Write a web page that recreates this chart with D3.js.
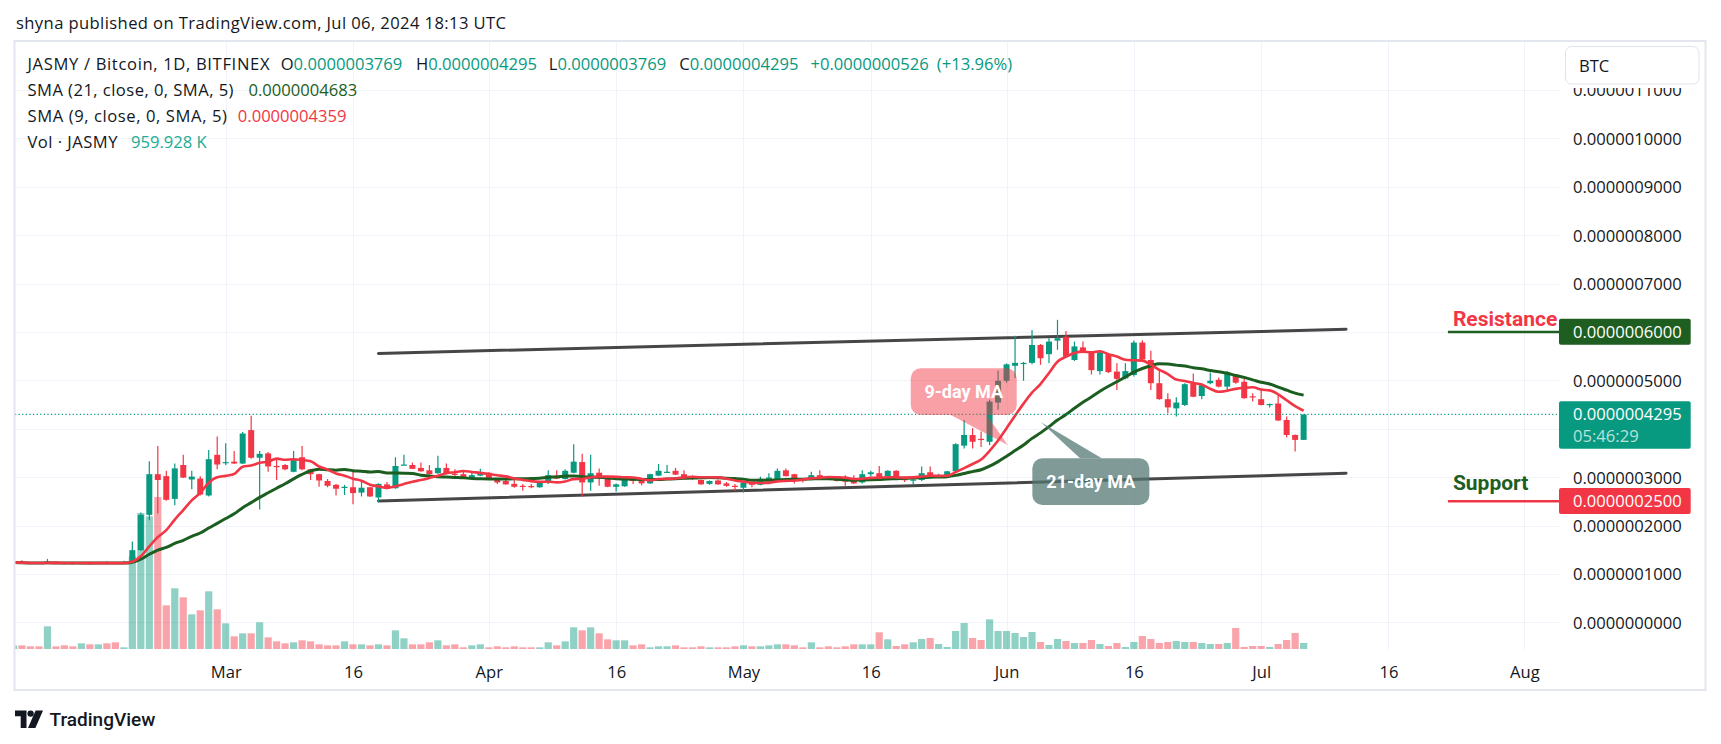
<!DOCTYPE html>
<html><head><meta charset="utf-8">
<script src="https://cdn.jsdelivr.net/npm/d3@7"></script>
<style>
html,body{margin:0;padding:0;background:#fff;}
svg{display:block;font-family:"Open Sans",Roboto,"Liberation Sans",sans-serif;}
</style></head><body>
<svg id="c" width="1721" height="744"></svg>
<script>
// ---------- DATA (prices in units of 1e-7 BTC, volume in thousands) ----------
const PRICE_UNIT = 1e-7;
const dates = [
"2024-02-05","2024-02-06","2024-02-07","2024-02-08","2024-02-09","2024-02-10","2024-02-11","2024-02-12","2024-02-13","2024-02-14","2024-02-15","2024-02-16","2024-02-17","2024-02-18","2024-02-19","2024-02-20","2024-02-21","2024-02-22","2024-02-23","2024-02-24","2024-02-25","2024-02-26","2024-02-27","2024-02-28","2024-02-29",
"2024-03-01","2024-03-02","2024-03-03","2024-03-04","2024-03-05","2024-03-06","2024-03-07","2024-03-08","2024-03-09","2024-03-10","2024-03-11","2024-03-12","2024-03-13","2024-03-14","2024-03-15","2024-03-16","2024-03-17","2024-03-18","2024-03-19","2024-03-20","2024-03-21","2024-03-22","2024-03-23","2024-03-24","2024-03-25","2024-03-26","2024-03-27","2024-03-28","2024-03-29","2024-03-30","2024-03-31",
"2024-04-01","2024-04-02","2024-04-03","2024-04-04","2024-04-05","2024-04-06","2024-04-07","2024-04-08","2024-04-09","2024-04-10","2024-04-11","2024-04-12","2024-04-13","2024-04-14","2024-04-15","2024-04-16","2024-04-17","2024-04-18","2024-04-19","2024-04-20","2024-04-21","2024-04-22","2024-04-23","2024-04-24","2024-04-25","2024-04-26","2024-04-27","2024-04-28","2024-04-29","2024-04-30",
"2024-05-01","2024-05-02","2024-05-03","2024-05-04","2024-05-05","2024-05-06","2024-05-07","2024-05-08","2024-05-09","2024-05-10","2024-05-11","2024-05-12","2024-05-13","2024-05-14","2024-05-15","2024-05-16","2024-05-17","2024-05-18","2024-05-19","2024-05-20","2024-05-21","2024-05-22","2024-05-23","2024-05-24","2024-05-25","2024-05-26","2024-05-27","2024-05-28","2024-05-29","2024-05-30","2024-05-31",
"2024-06-01","2024-06-02","2024-06-03","2024-06-04","2024-06-05","2024-06-06","2024-06-07","2024-06-08","2024-06-09","2024-06-10","2024-06-11","2024-06-12","2024-06-13","2024-06-14","2024-06-15","2024-06-16","2024-06-17","2024-06-18","2024-06-19","2024-06-20","2024-06-21","2024-06-22","2024-06-23","2024-06-24","2024-06-25","2024-06-26","2024-06-27","2024-06-28","2024-06-29","2024-06-30",
"2024-07-01","2024-07-02","2024-07-03","2024-07-04","2024-07-05","2024-07-06"];
const open = [
1.23,1.25,1.24,1.23,1.22,1.25,1.225,1.225,1.22,1.225,1.21,1.235,1.23,1.225,1.23,1.49,2.22,3.06,3.02,2.55,3.25,2.95,2.97,2.62,3.46,
3.30,3.32,3.28,3.97,3.40,3.49,3.23,3.25,3.11,3.41,3.16,3.06,2.92,2.84,2.79,2.79,2.68,2.79,2.58,2.85,2.77,3.25,3.25,3.19,3.14,3.08,3.19,3.07,3.06,2.995,3.03,
3.09,2.96,2.92,2.86,2.82,2.815,2.79,2.89,3.03,2.96,3.09,3.31,2.89,3.09,2.97,2.80,2.81,3.00,2.92,2.87,3.03,3.10,3.13,3.06,2.99,2.94,2.86,2.93,2.87,2.82,
2.78,2.89,2.84,2.93,2.96,3.14,3.06,2.975,2.975,3.04,3.00,2.99,2.93,2.97,2.89,3.06,3.08,3.02,3.13,2.96,2.94,2.94,3.10,3.03,3.04,3.12,3.65,3.87,3.79,3.73,4.54,
4.99,5.30,5.35,5.36,5.73,5.54,5.82,5.90,5.42,5.68,5.59,5.19,5.54,5.18,5.04,5.11,5.78,5.42,4.94,4.61,4.42,4.49,4.94,4.675,4.94,5.01,4.87,5.11,4.97,4.67,
4.61,4.49,4.52,4.18,3.87,3.769];
const high = [
1.25,1.28,1.245,1.235,1.31,1.26,1.23,1.23,1.23,1.23,1.235,1.26,1.24,1.27,1.67,2.27,3.33,3.64,3.13,3.28,3.46,3.13,3.02,3.56,3.84,
3.70,3.54,3.93,4.27,3.54,3.52,3.39,3.27,3.54,3.64,3.17,3.07,2.96,2.86,2.84,3.13,2.90,2.80,2.87,2.90,3.41,3.46,3.30,3.30,3.25,3.44,3.28,3.16,3.14,3.12,3.17,
3.10,2.97,2.95,2.94,2.86,2.86,2.90,3.14,3.14,3.16,3.68,3.48,3.46,3.18,3.01,2.87,3.01,3.00,2.93,3.07,3.27,3.25,3.19,3.14,3.03,2.95,2.93,2.95,2.90,2.86,
2.90,2.90,3.01,3.08,3.18,3.18,3.07,2.98,3.11,3.14,3.00,3.00,3.04,3.04,3.14,3.13,3.23,3.14,3.14,2.98,2.98,3.22,3.22,3.07,3.13,3.70,4.18,4.01,3.94,4.60,5.20,
5.35,5.92,5.38,6.04,5.75,5.87,6.25,6.02,5.80,5.80,5.60,5.60,5.55,5.35,5.35,5.82,5.83,5.61,5.21,4.73,4.65,4.94,5.14,4.92,5.16,5.06,5.19,5.12,5.06,4.73,
4.80,4.52,4.70,4.25,3.88,4.295];
const low = [
1.22,1.22,1.215,1.215,1.215,1.22,1.21,1.20,1.215,1.20,1.205,1.22,1.22,1.22,1.22,1.48,2.11,2.25,2.51,2.42,2.98,2.75,2.62,2.60,3.16,
3.25,3.27,3.27,3.38,2.33,3.11,2.94,3.14,3.10,3.14,2.94,2.80,2.79,2.62,2.63,2.44,2.60,2.59,2.48,2.75,2.76,3.245,3.17,3.11,3.05,3.07,3.06,2.99,2.99,2.99,3.02,
2.95,2.86,2.84,2.78,2.72,2.77,2.78,2.86,2.96,2.95,3.08,2.60,2.72,2.82,2.79,2.70,2.80,2.86,2.83,2.86,3.02,3.10,3.04,2.98,2.94,2.84,2.84,2.84,2.80,2.72,
2.68,2.79,2.83,2.92,2.95,3.01,2.87,2.89,2.96,2.98,2.96,2.91,2.82,2.86,2.87,3.01,2.99,3.01,2.95,2.90,2.85,2.92,3.01,3.02,3.03,3.11,3.59,3.59,3.62,3.66,4.39,
4.95,5.04,4.99,5.33,5.32,5.35,5.63,5.47,5.40,5.56,5.12,5.12,5.15,4.80,5.02,5.08,5.40,4.80,4.60,4.32,4.25,4.47,4.65,4.61,4.92,4.85,4.79,4.93,4.62,4.56,
4.48,4.44,4.16,3.82,3.53,3.769];
const close = [
1.24,1.22,1.22,1.22,1.24,1.225,1.22,1.215,1.225,1.21,1.23,1.22,1.225,1.24,1.49,2.22,3.06,2.94,2.53,3.18,2.99,3.01,2.64,3.37,3.26,
3.31,3.28,3.90,3.40,3.48,3.22,3.215,3.16,3.35,3.16,3.06,2.93,2.82,2.76,2.80,2.67,2.78,2.60,2.86,2.76,3.23,3.26,3.17,3.12,3.06,3.19,3.07,3.05,2.995,3.04,3.09,
2.96,2.89,2.85,2.80,2.81,2.81,2.89,3.04,2.97,3.13,3.32,2.89,3.08,2.97,2.80,2.85,2.96,2.92,2.87,3.06,3.13,3.11,3.05,2.99,2.98,2.85,2.92,2.85,2.82,2.81,
2.89,2.84,2.95,2.99,3.13,3.02,2.93,2.97,3.04,2.99,2.99,2.92,2.92,2.87,3.06,3.10,3.00,3.13,2.96,2.95,2.95,3.08,3.02,3.04,3.12,3.68,3.87,3.73,3.78,4.56,4.99,
5.33,5.36,5.36,5.73,5.455,5.80,5.87,5.49,5.70,5.57,5.21,5.58,5.17,5.03,5.19,5.78,5.43,4.94,4.61,4.44,4.54,4.92,4.66,4.90,4.99,4.87,5.14,4.95,4.63,4.65,
4.49,4.51,4.17,3.87,3.769,4.295];
const volume = [
587,587,427,427,3627,427,587,427,907,747,747,907,1067,267,14827,21760,21227,24320,6987,9707,8267,5547,6187,9227,6347,
4107,2027,2507,2507,4267,1867,1227,907,1067,1387,1227,747,587,587,1227,747,747,587,747,587,2987,1707,747,747,1067,1387,587,747,267,587,747,
267,427,267,427,267,267,267,1067,587,1227,3467,2987,3467,2507,1547,1387,1387,587,747,267,427,427,587,267,267,427,267,267,267,427,
587,427,427,587,747,747,587,267,1067,267,427,267,427,747,747,747,2667,1547,480,747,1067,1600,1760,800,320,2880,4160,1760,1440,4747,2880,
2880,2560,1920,2720,1120,640,1600,1280,960,960,1440,800,480,960,320,1120,2080,1600,960,1120,1280,1120,1120,960,800,800,960,3360,320,480,
480,320,800,1440,2560,959.928];

const priceTicks = [0,1,2,3,4,5,6,7,8,9,10,11];
const hiddenTickLabels = [4,6]; // covered by the price labels in the original
const timeTicks = ["2024-03-01","2024-03-16","2024-04-01","2024-04-16","2024-05-01","2024-05-16","2024-06-01","2024-06-16","2024-07-01","2024-07-16","2024-08-01"];
const timeLabels = ["Mar","16","Apr","16","May","16","Jun","16","Jul","16","Aug"];

const trendUpper = [["2024-03-19",5.556],["2024-07-11",6.054]];
const trendLower = [["2024-03-19",2.506],["2024-07-11",3.079]];
const resistanceLevel = 6.0, supportLevel = 2.5, levelStart = "2024-07-23";
const lastPrice = 4.295, countdown = "05:46:29";

const headerText = "shyna published on TradingView.com, Jul 06, 2024 18:13 UTC";
const symbolText = "JASMY / Bitcoin, 1D, BITFINEX";
const ohlcText = [["O","0.0000003769"],["H","0.0000004295"],["L","0.0000003769"],["C","0.0000004295"]];
const changeText = ["+0.0000000526","(+13.96%)"];
const sma21Legend = ["SMA (21, close, 0, SMA, 5)","0.0000004683"];
const sma9Legend = ["SMA (9, close, 0, SMA, 5)","0.0000004359"];
const volLegend = ["Vol · JASMY","959.928 K"];

// ---------- STYLE ----------
const C = {text:"#131722", up:"#089981", down:"#f23645", upVol:"rgba(8,153,129,0.45)", downVol:"rgba(242,54,69,0.45)",
  sma21:"#1b5e20", sma9:"#f23645", grid:"#f0f3fa", frame:"#e3e6ee", trend:"#3c3c3c", volText:"#22ab94"};
const FS = 16.6;

const svg = d3.select("#c");
const parse = d3.utcParse("%Y-%m-%d");
const parseT = d3.utcParse("%Y-%m-%dT%H:%M");
const D = dates.map(parse);
const plot = {left:15, right:1559, top:42, bottom:650};

const x = d3.scaleUtc().domain([parse("2024-03-01"), parse("2024-08-01")]).range([225.7, 1524.3]);
const y = d3.scaleLinear().domain([0, 10]).range([622.3, 138.3]);
const yv = d3.scaleLinear().domain([0, 24000]).range([649, 499]);

svg.append("rect").attr("width",1721).attr("height",744).attr("fill","#fff");

svg.append("clipPath").attr("id","clip").append("rect")
  .attr("x",plot.left).attr("y",plot.top).attr("width",plot.right-plot.left).attr("height",plot.bottom-plot.top);

// grid
const grid = svg.append("g");
grid.selectAll(".hg").data(priceTicks).join("line")
  .attr("x1",plot.left).attr("x2",plot.right)
  .attr("y1",d=>Math.round(y(d))+0.5).attr("y2",d=>Math.round(y(d))+0.5)
  .attr("stroke",C.grid).attr("stroke-width",1);
grid.selectAll(".vg").data(timeTicks.map(parse)).join("line")
  .attr("y1",plot.top).attr("y2",plot.bottom)
  .attr("x1",d=>Math.round(x(d))+0.5).attr("x2",d=>Math.round(x(d))+0.5)
  .attr("stroke",C.grid).attr("stroke-width",1);

const g = svg.append("g").attr("clip-path","url(#clip)");

// volume
const isUp = i => close[i] >= open[i];
g.append("g").selectAll("rect").data(volume).join("rect")
  .attr("x",(v,i)=>x(D[i])-3.6).attr("width",7.2)
  .attr("y",v=>yv(v)).attr("height",v=>yv(0)-yv(v))
  .attr("fill",(v,i)=>isUp(i)?C.upVol:C.downVol);

// trend lines
const tl = d3.line().x(d=>x(parse(d[0]))).y(d=>y(d[1]));
[trendUpper, trendLower].forEach(t=>{
  g.append("path").attr("d",tl(t)).attr("fill","none").attr("stroke",C.trend)
   .attr("stroke-width",3).attr("stroke-linecap","round").attr("opacity",0.95);
});

// candles
const cg = g.append("g");
cg.selectAll("line").data(D).join("line")
  .attr("x1",d=>x(d)).attr("x2",d=>x(d))
  .attr("y1",(d,i)=>y(high[i])).attr("y2",(d,i)=>y(low[i]))
  .attr("stroke",(d,i)=>isUp(i)?C.up:C.down).attr("stroke-width",1.2);
cg.selectAll("rect").data(D).join("rect")
  .attr("x",d=>x(d)-3).attr("width",6)
  .attr("y",(d,i)=>y(Math.max(open[i],close[i])))
  .attr("height",(d,i)=>Math.max(1.2, Math.abs(y(open[i])-y(close[i]))))
  .attr("fill",(d,i)=>isUp(i)?C.up:C.down);

// SMA computed from closes
function sma(arr,n){return arr.map((v,i)=>d3.mean(arr.slice(Math.max(0,i-n+1),i+1)));}
const s21 = sma(close,21), s9 = sma(close,9);
const ml = d3.line().x((v,i)=>x(D[i])).y(v=>y(v)).curve(d3.curveMonotoneX);
g.append("path").attr("d",ml(s21)).attr("fill","none").attr("stroke",C.sma21).attr("stroke-width",3);
g.append("path").attr("d",ml(s9)).attr("fill","none").attr("stroke",C.sma9).attr("stroke-width",2.6);

// last price dotted line
g.append("line").attr("x1",plot.left).attr("x2",plot.right)
  .attr("y1",y(lastPrice)).attr("y2",y(lastPrice))
  .attr("stroke",C.up).attr("stroke-width",1.2).attr("stroke-dasharray","1.2,2.4");

// support / resistance
const lvX = x(parse(levelStart));
svg.append("line").attr("x1",lvX).attr("x2",plot.right).attr("y1",y(resistanceLevel)).attr("y2",y(resistanceLevel))
  .attr("stroke","#1e5e20").attr("stroke-width",2.5);
svg.append("line").attr("x1",lvX).attr("x2",plot.right).attr("y1",y(supportLevel)).attr("y2",y(supportLevel))
  .attr("stroke",C.down).attr("stroke-width",2.5);
svg.append("text").attr("x",lvX+5).attr("y",y(resistanceLevel)-6).text("Resistance")
  .attr("fill",C.down).attr("font-size",21).attr("font-weight",700).attr("font-family","Roboto,sans-serif");
svg.append("text").attr("x",lvX+5).attr("y",y(supportLevel)-11).text("Support")
  .attr("fill","#1e5e20").attr("font-size",21).attr("font-weight",700).attr("font-family","Roboto,sans-serif");

// callouts
function callout(tip, box, base, fill, label){
  const t = [x(parseT(tip[0])), y(tip[1])];
  const gg = svg.append("g");
  const bx = t[0]+box[0], by = t[1]+box[1], bw = box[2], bh = box[3];
  gg.append("rect").attr("x",bx).attr("y",by).attr("width",bw).attr("height",bh).attr("rx",10).attr("fill",fill);
  const baseY = base[2] ? by : by+bh;
  gg.append("path").attr("d",`M${t[0]+base[0]},${baseY}L${t[0]+base[1]},${baseY}L${t[0]},${t[1]}Z`).attr("fill",fill);
  gg.append("text").attr("x",bx+bw/2).attr("y",by+bh/2).attr("dy","0.35em").attr("text-anchor","middle")
    .attr("fill","#fff").attr("font-size",18).attr("font-weight",700).attr("font-family","Roboto,sans-serif").text(label);
}
callout(["2024-06-01T03:20",3.663],[-97,-76.7,106,46.7],[-57,-21,false],"rgba(242,54,69,0.47)","9-day MA");
callout(["2024-06-05T01:30",4.132],[-8.7,36,117,46.7],[39,60.7,true],"rgba(84,119,115,0.74)","21-day MA");

// price axis
const ya = svg.append("g").attr("transform","translate(1573,0)")
  .call(d3.axisRight(y).tickValues(priceTicks.filter(v=>!hiddenTickLabels.includes(v)))
    .tickSize(0).tickPadding(0).tickFormat(v=>(v*PRICE_UNIT).toFixed(10)));
ya.select(".domain").remove();
ya.selectAll("text").attr("font-size",FS).attr("fill",C.text).attr("font-family","'Open Sans',sans-serif").attr("dy","0.36em");

// time axis
const xa = svg.append("g").attr("transform","translate(0,672)")
  .call(d3.axisBottom(x).tickValues(timeTicks.map(parse)).tickSize(0).tickFormat((d,i)=>timeLabels[i]));
xa.select(".domain").remove();
xa.selectAll("text").attr("y",0).attr("dy","0.36em").attr("font-size",FS).attr("fill",C.text).attr("font-family","'Open Sans',sans-serif");

// axis labels
function axisLabel(v, fill, lines){
  const h = lines.length>1 ? 47.5 : 26;
  const yy = y(v);
  svg.append("rect").attr("x",1559).attr("y",yy-13.2).attr("width",131.7).attr("height",h).attr("rx",2).attr("fill",fill);
  lines.forEach((l,k)=>{
    svg.append("text").attr("x",1573).attr("y",yy+k*21.3).attr("dy","0.36em").attr("font-size",FS)
      .attr("fill",k?"rgba(255,255,255,0.72)":"#fff").text(l);
  });
}
axisLabel(resistanceLevel,"#1e5e20",[(resistanceLevel*PRICE_UNIT).toFixed(10)]);
axisLabel(supportLevel,C.down,[(supportLevel*PRICE_UNIT).toFixed(10)]);
axisLabel(lastPrice,C.up,[(lastPrice*PRICE_UNIT).toFixed(10), countdown]);

// BTC box (with backdrop that masks top of the scale)
svg.append("rect").attr("x",1560).attr("y",42).attr("width",144).attr("height",46).attr("fill","#fff");
svg.append("rect").attr("x",1565.5).attr("y",46.5).attr("width",133.5).attr("height",37.5).attr("rx",6)
  .attr("fill","#fff").attr("stroke","#e0e3eb");
svg.append("text").attr("x",1579).attr("y",65.7).attr("dy","0.36em").attr("font-size",FS).attr("fill",C.text).text("BTC");

// frame
svg.append("rect").attr("x",14.5).attr("y",41).attr("width",1691).attr("height",649)
  .attr("fill","none").attr("stroke",C.frame).attr("stroke-width",2);

// header + legend (label widths matched to the original rendering)
function label(xx, yy, txt, col, width){
  const t = svg.append("text").attr("x",xx).attr("y",yy).attr("dy","0.36em").attr("font-size",FS).attr("fill",col).text(txt);
  if (width) t.attr("textLength",width).attr("lengthAdjust","spacing");
  return t;
}
label(16, 23.3, headerText, C.text, 490);
label(27.5, 64.3, symbolText, C.text, 242);
const ohlcX = [280.7,416,548.8,679.3];
ohlcText.forEach((o,k)=>{
  const t = svg.append("text").attr("y",64.3).attr("dy","0.36em").attr("font-size",FS);
  t.append("tspan").attr("x",ohlcX[k]).attr("fill",C.text).text(o[0]);
  t.append("tspan").attr("fill",C.up).text(o[1]);
});
label(810.5, 64.3, changeText[0], C.up);
label(936.8, 64.3, changeText[1], C.up);

label(27.5, 90, sma21Legend[0], C.text, 206);
label(248.5, 90, sma21Legend[1], C.sma21);
label(27.5, 116.3, sma9Legend[0], C.text, 199.4);
label(237.8, 116.3, sma9Legend[1], C.sma9);
label(27.5, 142.5, volLegend[0], C.text, 90);
label(131, 142.5, volLegend[1], C.volText);

// TradingView logo
const lg = svg.append("g").attr("fill",C.text);
lg.append("path").attr("d","M15,710.5h11.5v17.5h-5.8v-11.8h-5.7z");
lg.append("circle").attr("cx",30.6).attr("cy",713.6).attr("r",3.2);
lg.append("path").attr("d","M35.6,710.5h7.4l-7.6,17.5h-7.4z");
svg.append("text").attr("x",49.5).attr("y",719).attr("dy","0.35em").attr("font-size",19).attr("font-weight",500)
  .attr("font-family","Roboto,sans-serif").attr("fill",C.text).text("TradingView");
</script>
</body></html>
